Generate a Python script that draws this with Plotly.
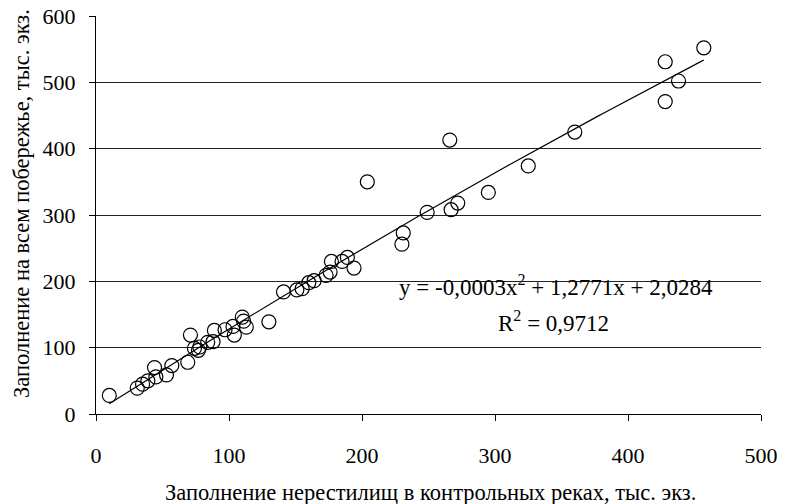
import numpy as np
import plotly.graph_objects as go

# Data (thousand fish)
control_rivers = [10, 31, 35, 39, 44, 45, 53, 57, 69, 71, 74, 77, 78, 84, 88, 89, 97, 103, 104,
                  110, 111, 113, 130, 141, 151, 155, 160, 164, 173, 176, 177, 185, 189, 194,
                  204, 230, 231, 249, 266, 267, 272, 295, 325, 360, 428, 428, 438, 457]
whole_coast = [28, 39, 45, 50, 70, 56, 59, 73, 78, 119, 99, 96, 101, 108, 109, 126, 127, 132, 119,
               146, 140, 131, 139, 184, 187, 189, 198, 201, 209, 214, 230, 230, 236, 220,
               350, 256, 273, 304, 413, 308, 318, 334, 374, 425, 531, 471, 502, 552]

x_ticks = [0, 100, 200, 300, 400, 500]
y_ticks = [0, 100, 200, 300, 400, 500, 600]

eq_text = "y = -0,0003x<sup>2</sup> + 1,2771x + 2,0284"
r2_text = "R<sup>2</sup> = 0,9712"
x_title = "Заполнение нерестилищ в контрольных реках, тыс. экз."
y_title = "Заполнение на всем побережье, тыс. экз."

xa = np.array(control_rivers, dtype=float)
ya = np.array(whole_coast, dtype=float)
coef = np.polyfit(xa, ya, 2)
xs = np.linspace(xa.min(), xa.max(), 120)
ys = np.polyval(coef, xs)

FONT = "Liberation Serif, Times New Roman, serif"
W, H = 785, 504
L, R, T, B = 96, 24, 16, 90

def px_x(p):
    return (p - L) / (W - L - R)

def px_y(p):
    return (H - B - p) / (H - T - B)

fig = go.Figure()
fig.add_trace(go.Scatter(x=xs, y=ys, mode="lines",
                         line=dict(color="black", width=1.2), hoverinfo="skip",
                         showlegend=False))
fig.add_trace(go.Scatter(x=control_rivers, y=whole_coast, mode="markers",
                         marker=dict(symbol="circle-open", size=14, color="black",
                                     line=dict(width=1.2, color="black")),
                         showlegend=False))

fig.add_annotation(x=px_x(397), y=194, xref="paper", yref="y", text=eq_text,
                   showarrow=False, xanchor="left", yanchor="middle",
                   font=dict(family=FONT, size=23, color="black"))
fig.add_annotation(x=px_x(553), y=139, xref="paper", yref="y", text=r2_text,
                   showarrow=False, xanchor="center", yanchor="middle",
                   font=dict(family=FONT, size=23, color="black"))

fig.add_annotation(x=px_x(430), y=px_y(492), xref="paper", yref="paper", text=x_title,
                   showarrow=False, xanchor="center", yanchor="middle",
                   font=dict(family=FONT, size=22.5, color="black"))
fig.add_annotation(x=px_x(21), y=px_y(204), xref="paper", yref="paper", text=y_title,
                   showarrow=False, xanchor="center", yanchor="middle", textangle=-90,
                   font=dict(family=FONT, size=22.5, color="black"))

fig.update_layout(
    width=W, height=H,
    margin=dict(l=L, r=R, t=T, b=B, autoexpand=False),
    paper_bgcolor="white", plot_bgcolor="white",
    font=dict(family=FONT, size=22, color="black"),
    xaxis=dict(range=[0, 500], tickvals=x_ticks, ticktext=[str(v) for v in x_ticks],
               showgrid=False, zeroline=False, showline=True, linecolor="black",
               linewidth=1, ticks="outside", ticklen=6, tickcolor="black",
               tickfont=dict(family=FONT, size=22), automargin=False,
               ticklabelstandoff=16),
    yaxis=dict(range=[0, 600], tickvals=y_ticks, ticktext=[str(v) for v in y_ticks],
               showgrid=True, gridcolor="#222", gridwidth=1, zeroline=False,
               showline=True, linecolor="black", linewidth=1, ticks="outside",
               ticklen=6, tickcolor="black", tickfont=dict(family=FONT, size=22),
               automargin=False, ticklabelstandoff=9),
)

fig.write_html("out.html")
